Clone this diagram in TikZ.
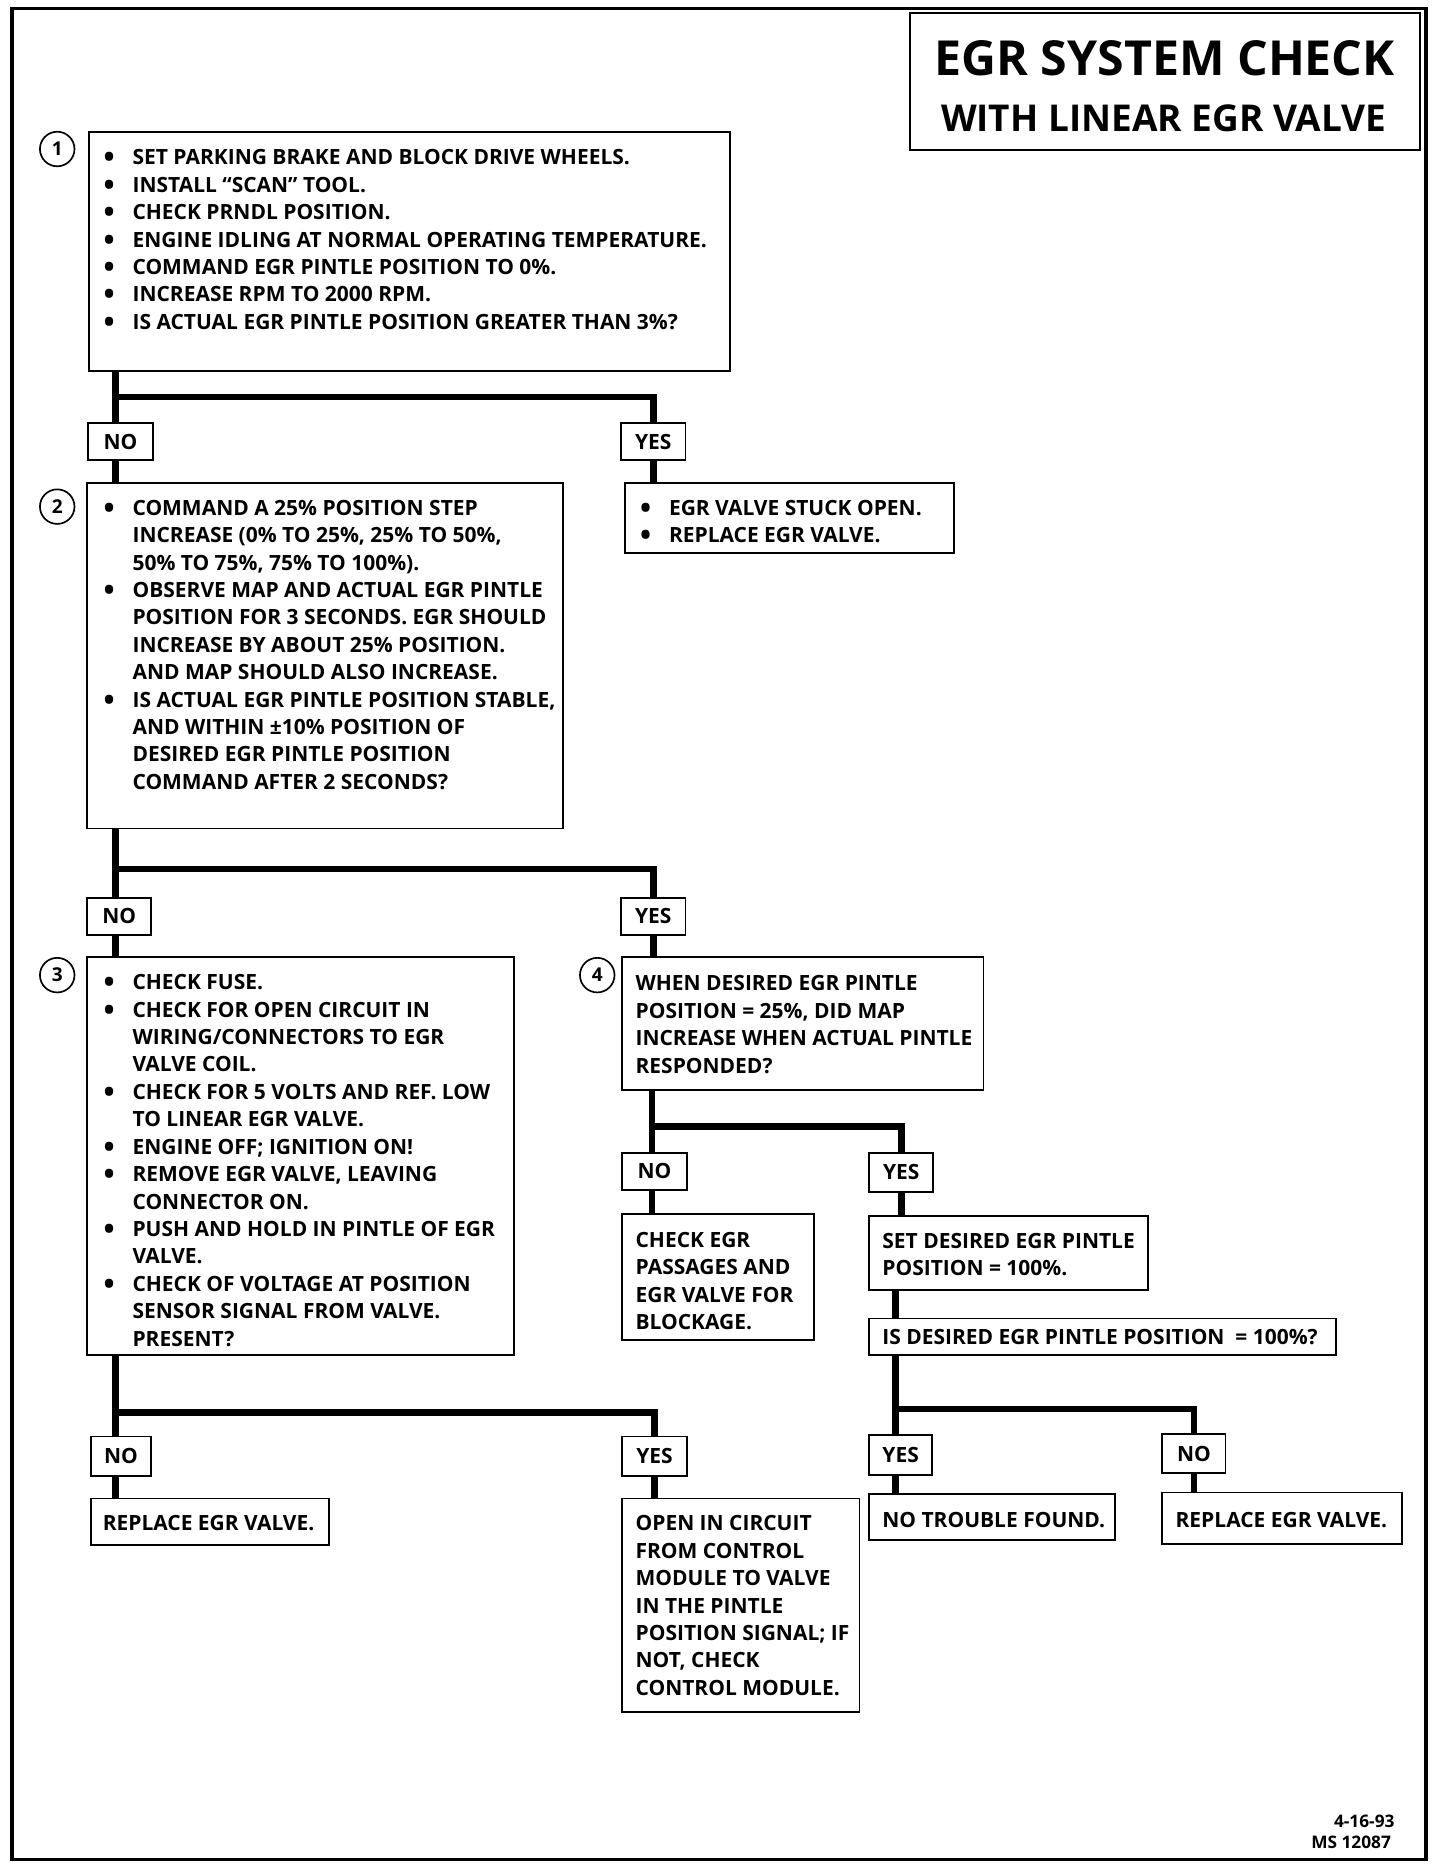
\documentclass[tikz,border=0pt]{standalone}
\usepackage{fontspec}
\setmainfont{Open Sans}
\usetikzlibrary{calc}
\newcommand\estrut{\rule{0pt}{15pt}}
\newcommand\bul{\estrut\llap{\raisebox{-2.6pt}{\scalebox{1.4}{\textbullet}}\hspace{15pt}}}
\tikzset{
  frame/.style={line width=3pt},
  box/.style={draw, line width=1.6pt, anchor=north west, inner sep=0pt, outer sep=0pt},
  txt/.style={anchor=north west, inner sep=0pt, align=left, font=\fontsize{17.6}{23}\selectfont\bfseries},
  lab/.style={draw, line width=1.6pt, anchor=north west, minimum width=54pt, minimum height=31pt, inner sep=0pt, outer sep=0pt, font=\fontsize{17.6}{23}\selectfont\bfseries},
  circ/.style={draw, circle, line width=1.4pt, minimum size=29pt, inner sep=0pt, font=\fontsize{16}{18}\selectfont\bfseries},
  conn/.style={line width=5.5pt, line join=miter},
  ttl/.style={anchor=base, inner sep=0pt, font=\bfseries}
}
\begin{document}
\begin{tikzpicture}[x=1pt,y=-1pt]
\useasboundingbox (0,0) rectangle (1208,1567);
% outer frame and title
\draw[frame] (10,7) rectangle (1196,1560);
\node[box, minimum width=428pt, minimum height=115pt] (title) at (763,11) {};
\node[ttl, font=\fontsize{40.5}{44}\selectfont\bfseries] (t1) at (977,63) {EGR SYSTEM CHECK};
\node[ttl, font=\fontsize{31}{34}\selectfont\bfseries] (t2) at (976,110) {WITH LINEAR EGR VALVE};

% boxes
\node[box, minimum width=537pt, minimum height=200pt] (b1) at (75,111) {};
\node[txt] (b1t) at ($(b1.north west)+(36,12)$) {\bul SET PARKING BRAKE AND BLOCK DRIVE WHEELS.\\
\bul INSTALL “SCAN” TOOL.\\
\bul CHECK PRNDL POSITION.\\
\bul ENGINE IDLING AT NORMAL OPERATING TEMPERATURE.\\
\bul COMMAND EGR PINTLE POSITION TO 0\%.\\
\bul INCREASE RPM TO 2000 RPM.\\
\bul IS ACTUAL EGR PINTLE POSITION GREATER THAN 3\%?};
\node[circ] (c1) at (48,125) {1};

\node[lab] (no1) at (74,355) {NO};
\node[lab] (yes1) at (521,355) {YES};

\node[box, minimum width=399pt, minimum height=290pt] (b2) at (73,405) {};
\node[txt] (b2t) at ($(b2.north west)+(38,12)$) {\bul COMMAND A 25\% POSITION STEP\\
INCREASE (0\% TO 25\%, 25\% TO 50\%,\\
50\% TO 75\%, 75\% TO 100\%).\\
\bul OBSERVE MAP AND ACTUAL EGR PINTLE\\
POSITION FOR 3 SECONDS. EGR SHOULD\\
INCREASE BY ABOUT 25\% POSITION.\\
AND MAP SHOULD ALSO INCREASE.\\
\bul IS ACTUAL EGR PINTLE POSITION STABLE,\\
AND WITHIN ±10\% POSITION OF\\
DESIRED EGR PINTLE POSITION\\
COMMAND AFTER 2 SECONDS?};
\node[circ] (c2) at (48,425) {2};

\node[box, minimum width=276pt, minimum height=59pt] (bstuck) at (524,405) {};
\node[txt] (bstuckt) at ($(bstuck.north west)+(37,12)$) {\bul EGR VALVE STUCK OPEN.\\
\bul REPLACE EGR VALVE.};

\node[lab] (no2) at (73,753) {NO};
\node[lab] (yes2) at (521,753) {YES};

\node[box, minimum width=358pt, minimum height=334pt] (b3) at (73,803) {};
\node[txt] (b3t) at ($(b3.north west)+(38,12)$) {\bul CHECK FUSE.\\
\bul CHECK FOR OPEN CIRCUIT IN\\
WIRING/CONNECTORS TO EGR\\
VALVE COIL.\\
\bul CHECK FOR 5 VOLTS AND REF. LOW\\
TO LINEAR EGR VALVE.\\
\bul ENGINE OFF; IGNITION ON!\\
\bul REMOVE EGR VALVE, LEAVING\\
CONNECTOR ON.\\
\bul PUSH AND HOLD IN PINTLE OF EGR\\
VALVE.\\
\bul CHECK OF VOLTAGE AT POSITION\\
SENSOR SIGNAL FROM VALVE.\\
PRESENT?};
\node[circ] (c3) at (48,818) {3};

\node[box, minimum width=303pt, minimum height=111pt] (b4) at (522,803) {};
\node[txt] (b4t) at ($(b4.north west)+(11,13)$) {\estrut WHEN DESIRED EGR PINTLE\\
POSITION = 25\%, DID MAP\\
INCREASE WHEN ACTUAL PINTLE\\
RESPONDED?};
\node[circ] (c4) at (501,818) {4};

\node[lab] (no4) at (522,967) {NO};
\node[lab, minimum height=33pt] (yes4) at (729,967) {YES};

\node[box, minimum width=161pt, minimum height=106pt] (bchk) at (522,1018) {};
\node[txt] (bchkt) at ($(bchk.north west)+(11,13)$) {\estrut CHECK EGR\\
PASSAGES AND\\
EGR VALVE FOR\\
BLOCKAGE.};

\node[box, minimum width=234pt, minimum height=62pt] (bset) at (729,1020) {};
\node[txt] (bsett) at ($(bset.north west)+(11,12)$) {\estrut SET DESIRED EGR PINTLE\\
POSITION = 100\%.};

\node[box, minimum width=392pt, minimum height=31pt] (bis) at (729,1106) {};
\node[txt] (bist) at ($(bis.north west)+(11,7)$) {\estrut IS DESIRED EGR PINTLE POSITION\ \ = 100\%?};

\node[lab, minimum width=53pt, minimum height=33pt] (yes5) at (729,1204) {YES};
\node[lab, minimum width=53pt, minimum height=33pt] (no5) at (975,1203) {NO};

\node[box, minimum width=206pt, minimum height=39pt] (bntf) at (729,1253) {};
\node[txt] (bntft) at ($(bntf.north west)+(11,13)$) {\estrut NO TROUBLE FOUND.};

\node[box, minimum width=201pt, minimum height=43pt] (brep2) at (975,1252) {};
\node[txt] (brep2t) at ($(brep2.north west)+(11,14)$) {\estrut REPLACE EGR VALVE.};

\node[lab, minimum width=51pt, minimum height=33pt] (no3) at (76,1205) {NO};
\node[lab, minimum height=33pt] (yes3) at (522,1205) {YES};

\node[box, minimum width=200pt, minimum height=39pt] (brep1) at (76,1257) {};
\node[txt] (brep1t) at ($(brep1.north west)+(10,12)$) {\estrut REPLACE EGR VALVE.};

\node[box, minimum width=199pt, minimum height=179pt] (bopen) at (522,1257) {};
\node[txt] (bopent) at ($(bopen.north west)+(11,12)$) {\estrut OPEN IN CIRCUIT\\
FROM CONTROL\\
MODULE TO VALVE\\
IN THE PINTLE\\
POSITION SIGNAL; IF\\
NOT, CHECK\\
CONTROL MODULE.};

% footer
\node[anchor=base east, inner sep=0pt, font=\fontsize{14.5}{18}\selectfont\bfseries] (f1) at (1170,1533) {4-16-93};
\node[anchor=base east, inner sep=0pt, font=\fontsize{14.5}{18}\selectfont\bfseries] (f2) at (1167,1551) {MS 12087};

% junctions
\coordinate (j1) at (97,333);
\coordinate (j2) at (97,729);
\coordinate (j3) at (97,1185);
\coordinate (j4) at (547,945);
\coordinate (j5) at (751,1182);

% connectors
\draw[conn] (b1.south -| j1) -- (j1) -- (j1 -| yes1) -- (yes1.north);
\draw[conn] (j1) -- (no1.north -| j1);
\draw[conn] (no1.south -| j1) -- (b2.north -| j1);
\draw[conn] (yes1.south) -- (bstuck.north -| yes1);

\draw[conn] (b2.south -| j2) -- (j2) -- (j2 -| yes2) -- (yes2.north);
\draw[conn] (j2) -- (no2.north -| j2);
\draw[conn] (no2.south -| j2) -- (b3.north -| j2);
\draw[conn] (yes2.south) -- (b4.north -| yes2);

\draw[conn] (b3.south -| j3) -- (j3) -- (j3 -| yes3) -- (yes3.north);
\draw[conn] (j3) -- (no3.north -| j3);
\draw[conn] (no3.south -| j3) -- (brep1.north -| j3);
\draw[conn] (yes3.south) -- (bopen.north -| yes3);

\draw[conn] (b4.south -| j4) -- (j4) -- (j4 -| yes4) -- (yes4.north);
\draw[conn] (j4) -- (no4.north -| j4);
\draw[conn] (no4.south -| j4) -- (bchk.north -| j4);
\draw[conn] (yes4.south) -- (bset.north -| yes4);

\draw[conn] (bset.south -| j5) -- (bis.north -| j5);
\draw[conn] (bis.south -| j5) -- (j5) -- (j5 -| no5) -- (no5.north);
\draw[conn] (j5) -- (yes5.north -| j5);
\draw[conn] (yes5.south -| j5) -- (bntf.north -| j5);
\draw[conn] (no5.south) -- (brep2.north -| no5);
\end{tikzpicture}
\end{document}
